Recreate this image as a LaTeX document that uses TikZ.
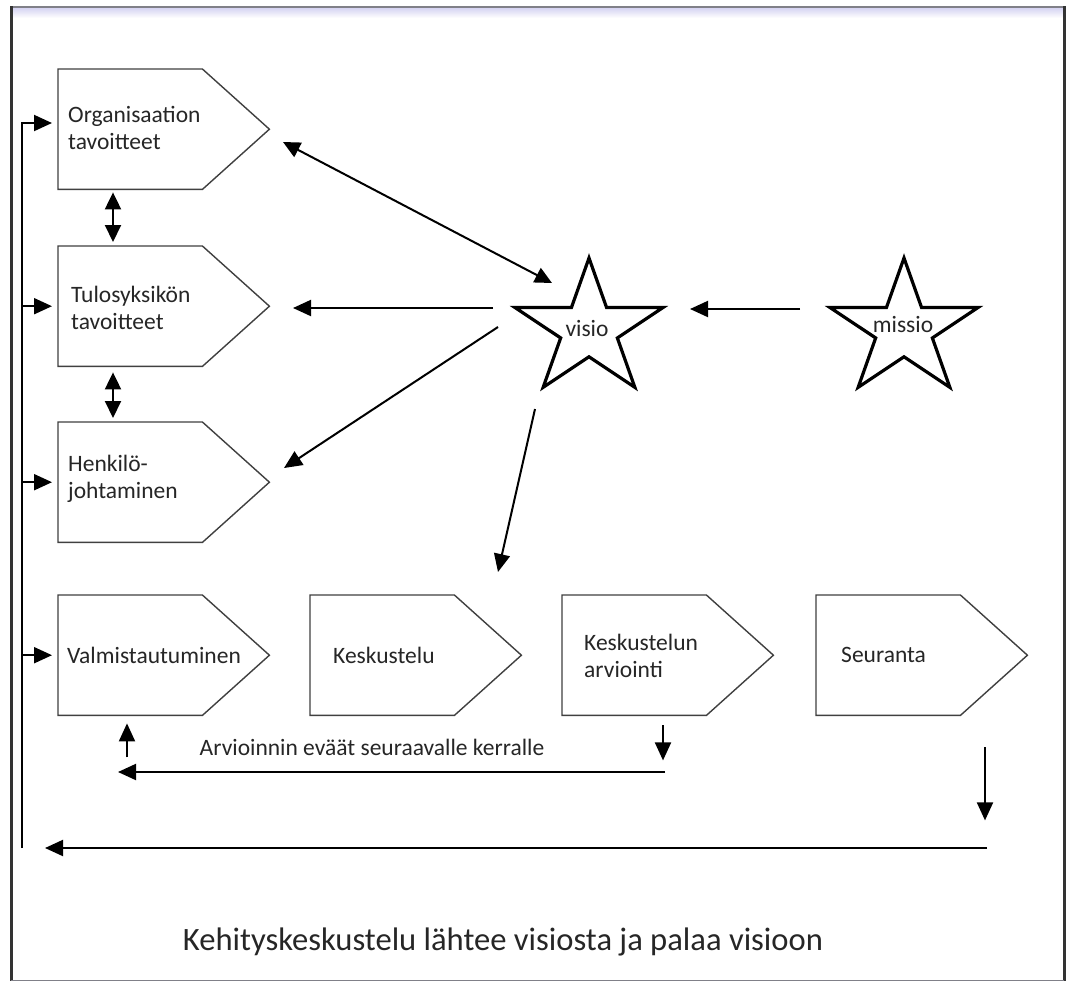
\documentclass[tikz,border=0pt]{standalone}
\usepackage{fontspec}
\setmainfont{Carlito}
\usetikzlibrary{arrows.meta,calc}
\definecolor{lav}{RGB}{214,212,242}
\definecolor{framegray}{RGB}{128,128,136}
\begin{document}
\begin{tikzpicture}[x=1pt,y=-1pt,
  boxn/.style={draw=none, minimum width=211pt, minimum height=120pt, anchor=north west, inner sep=0pt},
  lbl/.style={font=\fontsize{23.5}{27}\selectfont, text=black!85, align=left, anchor=west, inner sep=0pt},
  ctr/.style={font=\fontsize{23.5}{27}\selectfont, text=black!85, inner sep=0pt},
  starn/.style={draw=none, minimum size=140pt, inner sep=0pt},
  arr/.style={line width=2pt, -{Triangle[length=18pt,width=16pt]}},
  darr/.style={line width=2pt, {Triangle[length=17pt,width=16pt]}-{Triangle[length=17pt,width=16pt]}},
  outline/.style={draw=black!75, line width=1.4pt, line join=miter},
  starline/.style={draw=black, line width=3.2pt, line join=miter}
]
\useasboundingbox (0,0) rectangle (1067,983);
\fill[white] (0,0) rectangle (1067,983);
% frame
\shade[top color=lav, bottom color=white] (12,8) rectangle (1063,18);
\draw[framegray, line width=2.5pt] (10,7) -- (1065,7);
\draw[black!80, line width=3pt] (11,6) -- (11,981);
\draw[black!80, line width=3pt] (1064,6) -- (1064,981);
\draw[framegray, line width=1pt] (11,980) -- (1064,980);

\newcommand{\pentagon}[1]{\draw[outline] (#1.north west) -- ([xshift=-67pt]#1.north east) -- (#1.east) -- ([xshift=-67pt]#1.south east) -- (#1.south west) -- cycle;}
\newcommand{\stardraw}[1]{\draw[starline, shift={(#1.center)}] (270:78 and 71.5) -- (306:29.8 and 27.3) -- (342:78 and 71.5) -- (18:29.8 and 27.3) -- (54:78 and 71.5) -- (90:29.8 and 27.3) -- (126:78 and 71.5) -- (162:29.8 and 27.3) -- (198:78 and 71.5) -- (234:29.8 and 27.3) -- cycle;}

% boxes
\node[boxn] (org) at (58,69) {};
\node[boxn] (tulo) at (58,246) {};
\node[boxn] (henk) at (58,422) {};
\node[boxn] (valm) at (58,595) {};
\node[boxn] (kesk) at (310,595) {};
\node[boxn] (arvi) at (562,595) {};
\node[boxn] (seur) at (816,595) {};
\pentagon{org}\pentagon{tulo}\pentagon{henk}\pentagon{valm}\pentagon{kesk}\pentagon{arvi}\pentagon{seur}

\node[lbl] (orgt) at ($(org.west)+(10,-1)$) {Organisaation\\tavoitteet};
\node[lbl] (tulot) at ($(tulo.west)+(13,2)$) {Tulosyksikön\\tavoitteet};
\node[lbl] (henkt) at ($(henk.west)+(10,-3)$) {Henkilö-\\johtaminen};
\node[lbl] (valmt) at ($(valm.west)+(9,0)$) {Valmistautuminen};
\node[lbl] (keskt) at ($(kesk.west)+(23,0)$) {Keskustelu};
\node[lbl] (arvit) at ($(arvi.west)+(22,1)$) {Keskustelun\\arviointi};
\node[lbl] (seurt) at ($(seur.west)+(25,0)$) {Seuranta};

% stars
\node[starn] (visio) at (589,329.5) {};
\node[starn] (missio) at (904,329.5) {};
\stardraw{visio}\stardraw{missio}
\node[ctr] (visiot) at (587,328) {visio};
\node[ctr] (missiot) at (903,324) {missio};

% arrows around visio
\coordinate (a1s) at (552,283); \coordinate (a1e) at (283,142);
\draw[darr] (a1s) -- (a1e);
\coordinate (a2s) at (493,308); \coordinate (a2e) at (293,308);
\draw[arr] (a2s) -- (a2e);
\coordinate (a3s) at (498,327); \coordinate (a3e) at (284,468);
\draw[arr] (a3s) -- (a3e);
\coordinate (a4s) at (800,309); \coordinate (a4e) at (690,309);
\draw[arr] (a4s) -- (a4e);
\coordinate (a5s) at (535,409); \coordinate (a5e) at (498,572);
\draw[arr] (a5s) -- (a5e);

% double arrows between left boxes
\draw[darr] ($(org.south west)+(55,3)$) -- ($(tulo.north west)+(55,-4)$);
\draw[darr] ($(tulo.south west)+(55,6)$) -- ($(henk.north west)+(55,-4)$);

% left feedback loop
\coordinate (lb) at (22,848);
\coordinate (l1) at (22,123);
\draw[arr] (lb) -- (l1) -- ($(l1 -| org.west)+(-6,0)$);
\draw[arr] (tulo.west -| lb) -- ([xshift=-6pt]tulo.west);
\draw[arr] (henk.west -| lb) -- ([xshift=-6pt]henk.west);
\draw[arr] (valm.west -| lb) -- ([xshift=-6pt]valm.west);

% bottom feedback
\draw[arr] ($(arvi.south west)+(101,10)$) -- ($(arvi.south west)+(101,45)$);
\coordinate (m1) at (665,772); \coordinate (m2) at (118,772);
\draw[arr] (m1) -- (m2);
\draw[arr] ($(valm.south west)+(69,42)$) -- ($(valm.south west)+(69,8)$);
\node[ctr] (evaat) at (372,747) {Arvioinnin eväät seuraavalle kerralle};

\draw[arr] ($(seur.south west)+(169,32)$) -- ($(seur.south west)+(169,105)$);
\coordinate (b1) at (987,848); \coordinate (b2) at (45,848);
\draw[arr] (b1) -- (b2);

\node[ctr, font=\fontsize{32.6}{38}\selectfont] (caption) at (503,942) {Kehityskeskustelu lähtee visiosta ja palaa visioon};
\end{tikzpicture}
\end{document}
